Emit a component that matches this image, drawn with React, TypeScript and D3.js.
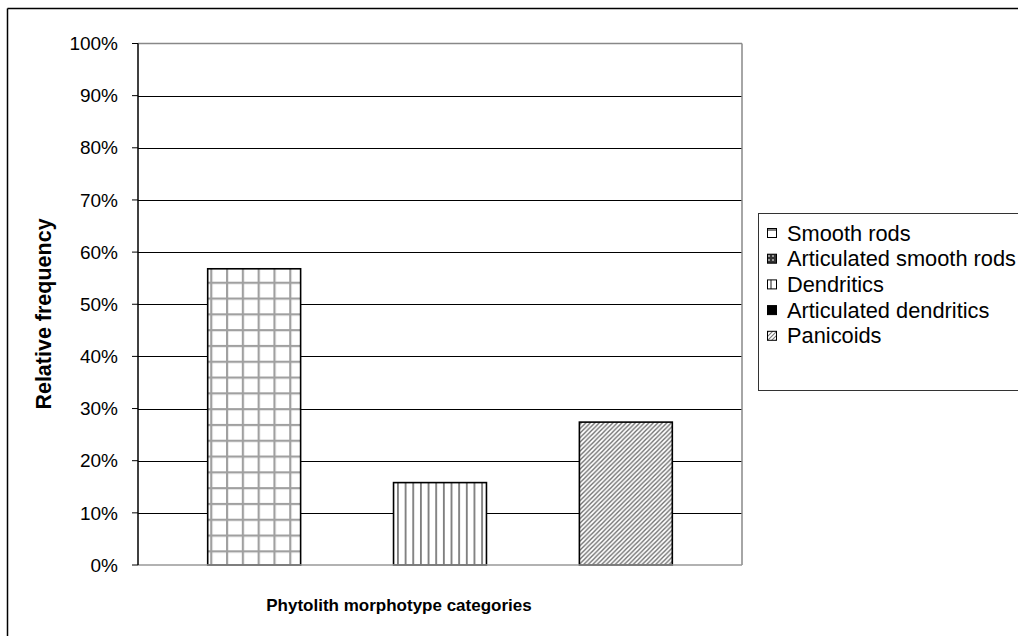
import React from "react";
import * as d3 from "d3";

const categories = ["Sample"];
const seriesNames = [
  "Smooth rods",
  "Articulated smooth rods",
  "Dendritics",
  "Articulated dendritics",
  "Panicoids",
];
const seriesValues = [0.568, 0, 0.158, 0, 0.274];
const yTicks = [0, 0.1, 0.2, 0.3, 0.4, 0.5, 0.6, 0.7, 0.8, 0.9, 1.0];
const yTitle = "Relative frequency";
const xTitle = "Phytolith morphotype categories";

const W = 1018;
const H = 636;
const plot = { left: 138, right: 742, top: 43.5, bottom: 565 };
const FONT = "'Liberation Sans', Arial, sans-serif";

const barFills = ["url(#pGrid)", "url(#pCheck)", "url(#pVert)", "#000", "url(#pDiag)"];
const swatchFills = ["url(#sGrid)", "url(#sCheck)", "url(#sVert)", "#000", "url(#sDiag)"];

export default function App() {
  const y = d3.scaleLinear().domain([0, 1]).range([plot.bottom, plot.top]);
  const x0 = d3
    .scaleBand<string>()
    .domain(categories)
    .range([plot.left, plot.right])
    .paddingInner(0)
    .paddingOuter(0.15);
  const x1 = d3
    .scaleBand<string>()
    .domain(seriesNames)
    .range([0, x0.bandwidth()])
    .padding(0);

  const legend = { x: 758.5, y: 213.5, w: 270, h: 177, row0: 233, step: 25.7 };

  return (
    <svg
      width={W}
      height={H}
      style={{ position: "absolute", left: 0, top: 0, background: "#fff" }}
      fontFamily={FONT}
    >
      <defs>
        <pattern id="pGrid" patternUnits="userSpaceOnUse" width={15.8} height={15.8} x={201} y={259}>
          <rect width={15.8} height={15.8} fill="#fff" />
          <line x1={8} y1={0} x2={8} y2={15.8} stroke="#a0a0a0" strokeWidth={2.2} />
          <line x1={0} y1={8} x2={15.8} y2={8} stroke="#a0a0a0" strokeWidth={2.2} />
        </pattern>
        <pattern id="pCheck" patternUnits="userSpaceOnUse" width={8} height={8}>
          <rect width={8} height={8} fill="#333" />
          <rect width={4} height={4} fill="#aaa" />
        </pattern>
        <pattern id="pVert" patternUnits="userSpaceOnUse" width={7.65} height={8} x={393}>
          <rect width={7.65} height={8} fill="#fff" />
          <line x1={3.8} y1={0} x2={3.8} y2={8} stroke="#6a6a6a" strokeWidth={1.6} />
        </pattern>
        <pattern id="pDiag" patternUnits="userSpaceOnUse" width={4.5} height={4.5}>
          <rect width={4.5} height={4.5} fill="#fff" />
          <path d="M0,4.5 L4.5,0 M-1,1 L1,-1 M3.5,5.5 L5.5,3.5" stroke="#6a6a6a" strokeWidth={1.3} />
        </pattern>
        <pattern id="sGrid" patternUnits="userSpaceOnUse" width={10} height={10} x={767} y={228}>
          <rect width={10} height={10} fill="#fff" />
          <line x1={0} y1={2} x2={10} y2={2} stroke="#555" strokeWidth={1.5} />
        </pattern>
        <pattern id="sCheck" patternUnits="userSpaceOnUse" width={4} height={4} x={767} y={254}>
          <rect width={4} height={4} fill="#333" />
          <rect x={1} y={1} width={2} height={2} fill="#999" />
        </pattern>
        <pattern id="sVert" patternUnits="userSpaceOnUse" width={10} height={10} x={767} y={280}>
          <rect width={10} height={10} fill="#fff" />
          <line x1={4} y1={0} x2={4} y2={10} stroke="#444" strokeWidth={1.2} />
        </pattern>
        <pattern id="sDiag" patternUnits="userSpaceOnUse" width={4} height={4}>
          <rect width={4} height={4} fill="#fff" />
          <path d="M0,4 L4,0 M-1,1 L1,-1 M3,5 L5,3" stroke="#777" strokeWidth={1.1} />
        </pattern>
      </defs>

      {/* outer frame */}
      <line x1={7.5} y1={8.5} x2={W} y2={8.5} stroke="#000" strokeWidth={1.5} />
      <line x1={7.5} y1={8.5} x2={7.5} y2={H} stroke="#000" strokeWidth={1.5} />

      {/* gridlines */}
      {yTicks.slice(1, -1).map((t) => (
        <line
          key={"g" + t}
          x1={plot.left}
          x2={plot.right}
          y1={Math.round(y(t)) + 0.5}
          y2={Math.round(y(t)) + 0.5}
          stroke="#000"
          strokeWidth={1}
        />
      ))}

      {/* plot border top/right */}
      <line x1={plot.left} x2={plot.right} y1={plot.top} y2={plot.top} stroke="#888" strokeWidth={1.5} />
      <line x1={plot.right} x2={plot.right} y1={plot.top} y2={plot.bottom} stroke="#888" strokeWidth={1.5} />

      {/* bars */}
      {categories.map((c) => (
        <g key={c} transform={`translate(${x0(c)},0)`}>
          {seriesNames.map((s, i) =>
            seriesValues[i] > 0 ? (
              <rect
                key={s}
                x={x1(s)}
                y={y(seriesValues[i])}
                width={x1.bandwidth()}
                height={y(0) - y(seriesValues[i])}
                fill={barFills[i]}
                stroke="#000"
                strokeWidth={1.6}
              />
            ) : null
          )}
        </g>
      ))}

      {/* x axis line */}
      <line x1={plot.left} x2={plot.right} y1={plot.bottom} y2={plot.bottom} stroke="#999" strokeWidth={1.6} />
      {/* y axis */}
      <line x1={plot.left} x2={plot.left} y1={plot.top} y2={plot.bottom} stroke="#000" strokeWidth={1.5} />
      {yTicks.map((t) => (
        <g key={"t" + t}>
          <line x1={plot.left - 6} x2={plot.left} y1={y(t)} y2={y(t)} stroke="#000" strokeWidth={1} />
          <text
            x={118}
            y={y(t)}
            dy="0.35em"
            textAnchor="end"
            fontSize={19}
            fill="#000"
          >
            {d3.format(".0%")(t)}
          </text>
        </g>
      ))}

      {/* axis titles */}
      <text
        transform={`translate(51,314) rotate(-90)`}
        textAnchor="middle"
        fontSize={21.5}
        fontWeight="bold"
        fill="#000"
      >
        {yTitle}
      </text>
      <text x={399} y={611} textAnchor="middle" fontSize={17} fontWeight="bold" fill="#000">
        {xTitle}
      </text>

      {/* legend */}
      <rect x={legend.x} y={legend.y} width={legend.w} height={legend.h} fill="#fff" stroke="#333" strokeWidth={1} />
      {seriesNames.map((s, i) => {
        const cy = legend.row0 + i * legend.step;
        return (
          <g key={"l" + s}>
            <rect x={767.5} y={cy - 4.5} width={9} height={9} fill={swatchFills[i]} stroke="#000" strokeWidth={1} />
            <text x={787} y={cy} dy="0.35em" fontSize={21.8} fill="#000">
              {s}
            </text>
          </g>
        );
      })}
    </svg>
  );
}
